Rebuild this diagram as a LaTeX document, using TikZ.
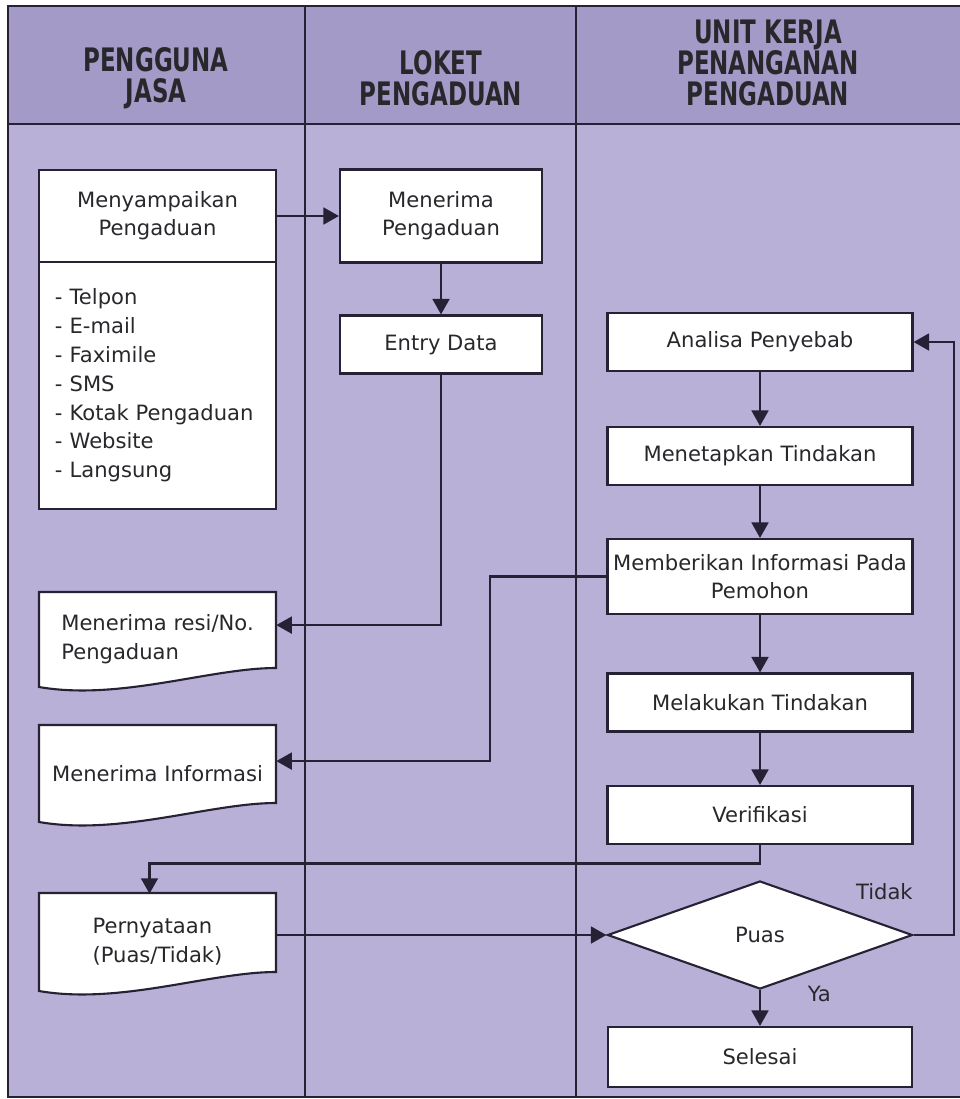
\documentclass[tikz,border=0pt]{standalone}
\usepackage{fontspec}
\setmainfont{DejaVu Sans}
\newfontfamily\judulfont{DejaVu Sans}[FakeStretch=0.71]
\usetikzlibrary{positioning,shapes.geometric,arrows.meta,calc}

\definecolor{ungukepala}{RGB}{164,154,200}
\definecolor{ungubadan}{RGB}{185,176,215}
\definecolor{garis}{RGB}{38,33,52}
\definecolor{tulisan}{RGB}{40,40,44}

\tikzset{
  tepi/.style={draw=garis, line width=1.5pt},
  kotak/.style={rectangle, tepi, fill=white, text=tulisan, align=center, inner xsep=2pt,
    minimum width=7.625cm, minimum height=1.45cm, font=\fontsize{15}{20}\selectfont},
  kecil/.style={kotak, minimum width=5.05cm},
  dokumen/.style={rectangle, text=tulisan, align=left, minimum width=5.925cm,
    minimum height=2.4cm, font=\fontsize{15}{20.5}\selectfont},
  judul/.style={text=tulisan, align=center, font=\judulfont\bfseries\fontsize{23}{22}\selectfont},
  keterangan/.style={text=tulisan, font=\fontsize{15}{20}\selectfont},
  panah/.style={tepi, -{Triangle[width=12pt,length=11pt]}},
}

% bentuk dokumen: #1 = atas, #2 = bawah sisi kanan
\newcommand{\dokbentuk}[2]{%
  \draw[tepi, fill=white] (39,#1) -- (276,#1) -- (276,#2)
    .. controls (210,#2) and (120,#2+33) .. (39,#2+19) -- cycle;}

\begin{document}
\begin{tikzpicture}[x=0.025cm, y=-0.025cm]
\useasboundingbox (0,0) rectangle (960,1099);

% lajur
\fill[ungukepala] (8,6) rectangle (961,124);
\fill[ungubadan] (8,124) rectangle (961,1097);
\draw[tepi] (8,6) rectangle (961,1097);
\draw[tepi, line width=2pt] (8,124) -- (961,124);
\draw[tepi] (305,6) -- (305,1097);
\draw[tepi] (576,6) -- (576,1097);

\node[judul] (kepala1) at (156,78) {PENGGUNA\\JASA};
\node[judul] (kepala2) at (441,78) {LOKET\\PENGADUAN};
\node[judul] (kepala3) at (768,63) {UNIT KERJA\\PENANGANAN\\PENGADUAN};

% pengguna jasa
\node[kotak, minimum width=5.925cm, minimum height=2.3cm] (nyampai) at (157.5,216) {Menyampaikan\\Pengaduan};
\node[kotak, minimum width=5.925cm, minimum height=6.175cm, align=left, text width=5.125cm,
  font=\fontsize{15}{20.5}\selectfont] (daftar) at (157.5,385.5)
  {- Telpon\\- E-mail\\- Faximile\\- SMS\\- Kotak Pengaduan\\- Website\\- Langsung};

\dokbentuk{592}{668}
\node[dokumen] (resi) at (157.5,639.5) {Menerima resi/No.\\Pengaduan};
\dokbentuk{725}{803}
\node[dokumen] (info) at (157.5,773.5) {Menerima Informasi};
\dokbentuk{893}{972}
\node[dokumen] (pern) at (157.5,942) {Pernyataan\\(Puas/Tidak)};

% loket pengaduan
\node[kecil, minimum height=2.325cm] (terima) at (441,216) {Menerima\\Pengaduan};
\node[kecil] (entri) at (441,344.5) {Entry Data};

% unit kerja
\node[kotak] (analisa) at (760,342) {Analisa Penyebab};
\node[kotak] (tetap) at (760,456) {Menetapkan Tindakan};
\node[kotak, minimum height=1.875cm] (beri) at (760,576.5) {Memberikan Informasi Pada\\Pemohon};
\node[kotak] (laku) at (760,702.5) {Melakukan Tindakan};
\node[kotak] (verif) at (760,815) {Verifikasi};
\node[kotak, diamond, aspect=2.8, inner sep=0pt, minimum width=7.625cm, minimum height=2.7cm] (puas) at (760,935) {Puas};
\node[kotak, minimum width=7.6cm, minimum height=1.5cm] (selesai) at (760,1057) {Selesai};

% alur
\draw[panah] (nyampai.east) -- (terima.west);
\draw[panah] (terima) -- (entri);
\draw[panah] (entri.south) |- ([yshift=0.36cm]resi.east);
\draw[panah] (analisa) -- (tetap);
\draw[panah] (tetap) -- (beri);
\draw[panah] (beri) -- (laku);
\draw[panah] (laku) -- (verif);
\draw[panah] (beri.west) -- ++(-2.9cm,0) |- ([yshift=0.31cm]info.east);
\draw[panah] (verif.south) -- ++(0,-0.46cm) -| ([xshift=-0.2cm]pern.north);
\draw[panah] (pern.east |- puas.west) -- (puas.west);
\draw[panah] (puas.south) -- node[keterangan, pos=0.1, right=1.05cm] (ya) {Ya} (selesai.north);
\draw[panah] (puas.east) -- ++(1cm,0) |- (analisa.east);
\node[keterangan, above left=0.75cm and -0.1cm of puas.east] (tidak) {Tidak};
\end{tikzpicture}
\end{document}
